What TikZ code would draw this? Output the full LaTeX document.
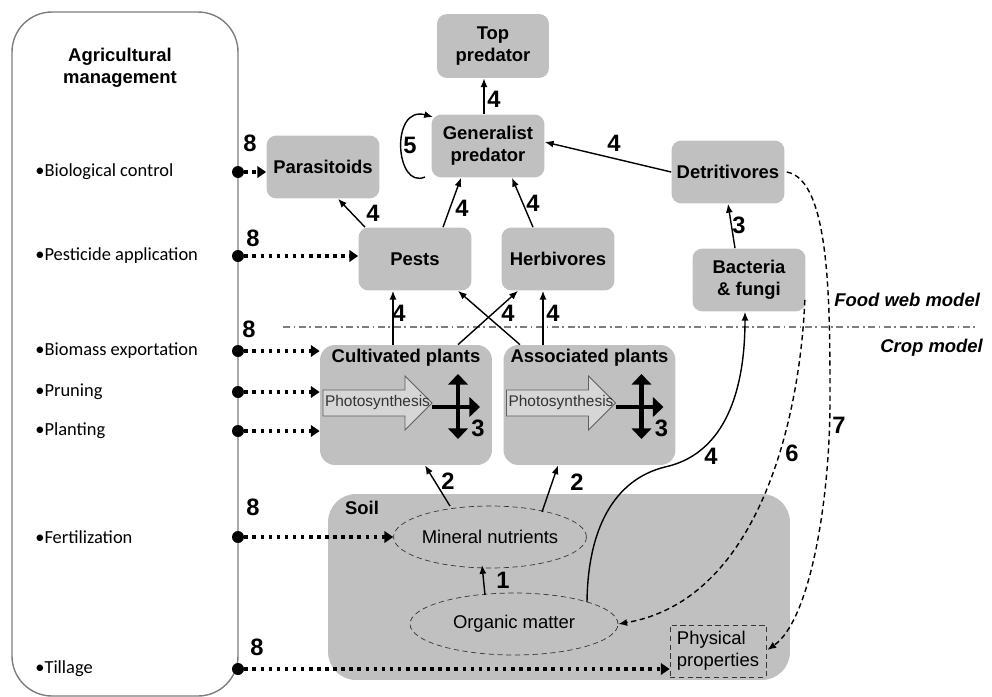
\documentclass[tikz,border=0pt]{standalone}
\usepackage{tikz}
\usepackage{fontspec}
\setmainfont{Liberation Sans}
\newfontfamily\bulletfont{Carlito}
\usetikzlibrary{shapes,arrows,arrows.meta,positioning,calc}
\definecolor{boxgray}{RGB}{192,192,192}
\definecolor{photogray}{RGB}{214,214,214}
\definecolor{linegray}{RGB}{125,125,125}
\definecolor{dashgray}{RGB}{55,55,55}
\newcommand{\normsize}{\fontsize{10.5}{12.6}\selectfont}
\newcommand{\numsize}{\fontsize{13.5}{15}\selectfont\bfseries}

\begin{document}
\begin{tikzpicture}[x=0.02cm, y=-0.02cm, font=\normsize,
  webbox/.style={rectangle, rounded corners=0.2cm, fill=boxgray, font=\normsize\bfseries, align=center, minimum width=2.26cm, minimum height=1.26cm, inner sep=2pt},
  plantbox/.style={rectangle, rounded corners=0.3cm, fill=boxgray, minimum width=3.44cm, minimum height=2.4cm},
  pool/.style={ellipse, draw=dashgray, dash pattern=on 3pt off 2pt, inner sep=0pt},
  flow/.style={-{Latex[length=5pt,width=4pt]}, line width=0.8pt},
  dflow/.style={flow, dash pattern=on 3pt off 2pt},
  mgmt/.style={-{Triangle[length=5pt,width=6.5pt]}, line width=2pt, dash pattern=on 2pt off 2.6pt},
  cross/.style={line width=2.3pt, -{Triangle[length=6pt,width=11pt]}},
  num/.style={font=\numsize, inner sep=1pt},
  hub/.style={circle, fill=black, inner sep=0pt, minimum size=0.24cm}]
\useasboundingbox (0,0) rectangle (992,697);

% Management panel
\draw[linegray, line width=0.8pt, rounded corners=0.8cm] (12,12) rectangle (238,696);
\node[font=\normsize\bfseries, align=center] (mtitle) at (120,68) {Agricultural\\management};
\foreach \y/\txt/\name in {172/Biological control/bio, 256/Pesticide application/pest, 351/Biomass exportation/biom, 392/Pruning/prun, 431/Planting/plant, 537/Fertilization/fert, 669/Tillage/till} {
    \node[anchor=west, font=\bulletfont\fontsize{10.5}{12.6}\selectfont, inner sep=0pt] (t\name) at (35,\y) {•\txt};
    \node[hub] (d\name) at (238,\y) {};
}

% Food web
\node[webbox, minimum width=2.24cm, minimum height=1.28cm] (top) at (493,46) {Top\\predator};
\node[webbox] (gen) at (488,146) {Generalist\\predator};
\node[webbox] (para) at (323,167) {Parasitoids};
\node[webbox] (detr) at (728,172) {Detritivores};
\node[webbox] (pests) at (415,259) {Pests};
\node[webbox] (herb) at (558,259) {Herbivores};
\node[webbox] (bact) at (749,280) {Bacteria\\\& fungi};

% Crop model
\node[plantbox] (cult) at (406,405) {};
\node[plantbox] (assoc) at (589.5,405) {};
\node[font=\normsize\bfseries, inner sep=0pt] (cultname) at (406,358) {Cultivated plants};
\node[font=\normsize\bfseries, inner sep=0pt] (assocname) at (589.5,358) {Associated plants};
\foreach \p in {cult,assoc} {
    \draw[draw=dashgray!80, fill=photogray, line width=0.5pt]
        ($(\p.center)+(-83,-15)$) -- ($(\p.center)+(-1,-15)$) -- ($(\p.center)+(-1,-29)$)
        -- ($(\p.center)+(26,-2)$) -- ($(\p.center)+(-1,25)$) -- ($(\p.center)+(-1,11)$)
        -- ($(\p.center)+(-83,11)$) -- cycle;
    \node[font=\fontsize{8.8}{10}\selectfont, text=black!80, inner sep=0pt] (photo\p) at ($(\p.center)+(-28.5,-3)$) {Photosynthesis};
    \coordinate (fork\p) at ($(\p.center)+(52,2)$);
    \draw[cross] ($(\p.center)+(26,2)$) -- ($(\p.center)+(74,2)$);
    \draw[cross, {Triangle[length=6pt,width=11pt]}-{Triangle[length=6pt,width=11pt]}] ($(\p.center)+(52,-31)$) -- ($(\p.center)+(52,34)$);
    \node[num] (three\p) at ($(\p.center)+(72,23)$) {3};
}

% Soil
\node[rectangle, rounded corners=0.56cm, fill=boxgray, minimum width=9.24cm, minimum height=3.72cm] (soil) at (559,587) {};
\node[font=\normsize\bfseries] (soilname) at (362,508) {Soil};
\node[pool, minimum width=3.48cm, minimum height=1.24cm] (mineral) at (490,537) {Mineral nutrients};
\node[pool, minimum width=4.16cm, minimum height=1.24cm] (organic) at (514,624) {Organic matter};
\node[rectangle, draw=dashgray, dash pattern=on 3pt off 2pt, align=left, minimum width=1.92cm, minimum height=1.04cm, inner sep=2pt] (phys) at (718,651) {Physical\\properties};

% Model limits
\coordinate (sepL) at (283,327);
\coordinate (sepR) at (978,327);
\draw[linegray, line width=0.6pt, dash pattern=on 4pt off 2pt on 1pt off 2pt] (sepL) -- (sepR);
\node[anchor=west, font=\normsize\bfseries\itshape, inner sep=0pt] (fwm) at (834,300) {Food web model};
\node[anchor=west, font=\normsize\bfseries\itshape, inner sep=0pt] (cm) at (880,348) {Crop model};

% Trophic links
\draw[flow] ($(pests.north)+(-50,0)$) -- ($(para.south)+(15,0)$);
\draw[flow] ($(pests.north)+(28,0)$) -- ($(gen.south)+(-27,0)$);
\draw[flow] ($(herb.north)+(-25,0)$) -- ($(gen.south)+(24,0)$);
\draw[flow] ($(gen.north)+(-4,0)$) -- ($(top.south)+(-9,0)$);
\draw[flow] (detr.west) -- ($(gen.east)+(0,-4)$);
\draw[flow] ($(bact.north)+(-14,0)$) -- (detr.south);
\draw[flow] ($(gen.center)+(-63,31)$) .. controls +(-30,13) and +(-43,-12) .. ($(gen.center)+(-55,-29)$);
\draw[flow] ($(cult.north)+(-13,0)$) -- ($(pests.south)+(-22,0)$);
\draw[flow] ($(cult.north)+(52,0)$) -- ($(herb.south)+(-40,0)$);
\draw[flow] ($(assoc.north)+(-69.5,0)$) -- ($(pests.south)+(43,0)$);
\draw[flow] ($(assoc.north)+(-46.5,0)$) -- ($(herb.south)+(-15,0)$);

% Soil links
\draw[flow] ($(mineral.center)+(-40,-31)$) -- ($(cult.south)+(19,0)$);
\draw[flow] ($(mineral.center)+(52,-25)$) -- ($(assoc.south)+(-31.5,0)$);
\draw[flow] ($(organic.center)+(-29,-29)$) -- ($(mineral.center)+(-8,28)$);
\draw[flow] ($(organic.center)+(73,-22)$) .. controls +(1,-82) and +(-45,11) .. ++(78,-135)
    .. controls +(55,-12) and +(0,88) .. ($(bact.south)+(-4,0)$);
\draw[dflow] ($(bact.east)+(-1,20)$) .. controls +(-5,120) and +(140,-24) .. (organic.east);
\draw[dflow] ($(detr.east)+(2,0)$) .. controls +(43,8) and +(0,-100) .. (830,400)
    .. controls +(0,100) and +(43,-30) .. ($(phys.east)+(1,-1)$);

% Management actions
\foreach \name/\target in {bio/para, pest/pests, biom/cult, prun/cult, plant/cult, fert/mineral, till/phys} {
    \draw[mgmt] (d\name) -- (d\name -| \target.west);
}

% Link labels
\foreach \x/\y/\lab/\name in {373/213/4/la, 462/208/4/lb, 533/203/4/lc, 494/99/4/ld, 614/143/4/le, 739/225/3/lf, 410/145/5/lg, 399/313/4/lh, 508/313/4/li, 553/313/4/lj, 448/481/2/lk, 577/482/2/ll, 503/580/1/lm, 711/456/4/ln, 792/453/6/lo, 839/425/7/lp, 250/143/8/m1, 253/238/8/m2, 249/329/8/m3, 253/507/8/m4, 257/647/8/m5} {
    \node[num] (\name) at (\x,\y) {\lab};
}

\end{tikzpicture}
\end{document}
